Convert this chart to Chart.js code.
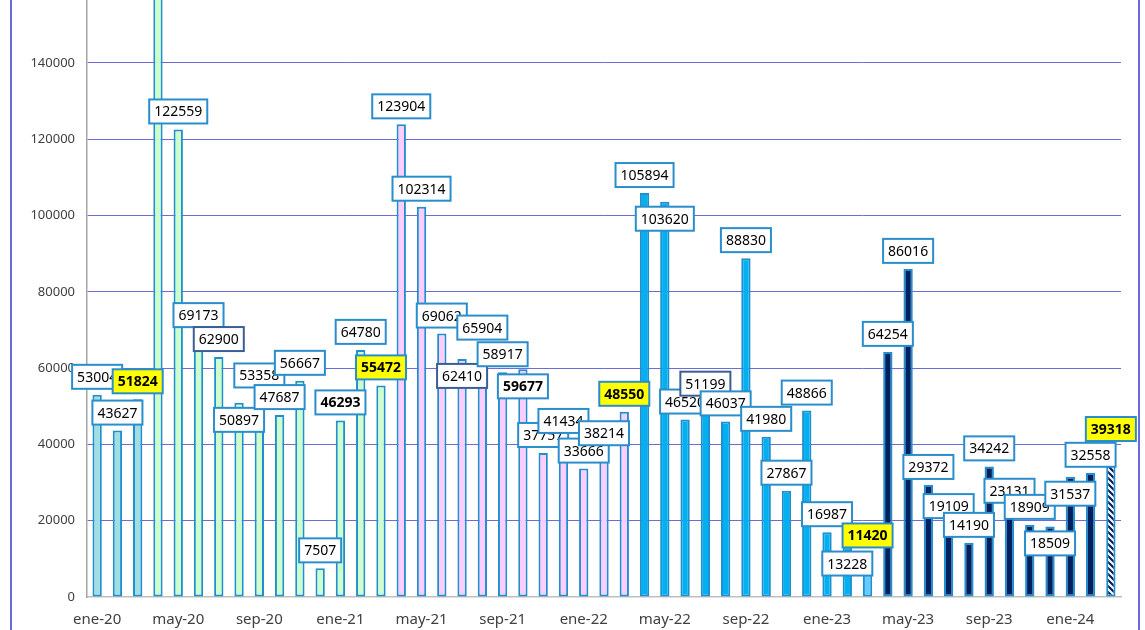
<!DOCTYPE html>
<html>
<head>
<meta charset="utf-8">
<script src="https://cdn.jsdelivr.net/npm/chart.js@4.4.0/dist/chart.umd.min.js"></script>
<style>
    html, body { margin: 0; padding: 0; background: #fff; }
    #contenedor { position: relative; width: 1145px; height: 630px; }
</style>
</head>
<body>
<div id="contenedor"><canvas id="graficoMensual"></canvas></div>
<script>
// Datos mensuales (ene-20 a mar-24)
const meses = [
    'ene-20', 'feb-20', 'mar-20', 'abr-20', 'may-20', 'jun-20', 'jul-20', 'ago-20', 'sep-20', 'oct-20', 'nov-20', 'dic-20',
    'ene-21', 'feb-21', 'mar-21', 'abr-21', 'may-21', 'jun-21', 'jul-21', 'ago-21', 'sep-21', 'oct-21', 'nov-21', 'dic-21',
    'ene-22', 'feb-22', 'mar-22', 'abr-22', 'may-22', 'jun-22', 'jul-22', 'ago-22', 'sep-22', 'oct-22', 'nov-22', 'dic-22',
    'ene-23', 'feb-23', 'mar-23', 'abr-23', 'may-23', 'jun-23', 'jul-23', 'ago-23', 'sep-23', 'oct-23', 'nov-23', 'dic-23',
    'ene-24', 'feb-24', 'mar-24'
];

const valores = [
    53004, 43627, 51824, 175000, 122559, 69173, 62900, 50897, 53358, 47687, 56667, 7507,
    46293, 64780, 55472, 123904, 102314, 69062, 62410, 65904, 58917, 59677, 37757, 41434,
    33666, 38214, 48550, 105894, 103620, 46520, 51199, 46037, 88830, 41980, 27867, 48866,
    16987, 13228, 11420, 64254, 86016, 29372, 19109, 14190, 34242, 23131, 18909, 18509,
    31537, 32558, 39318
];

// Marcas de las etiquetas
const etiquetasAmarillas = [2, 14, 26, 38, 50];
const etiquetasNegrita = [12, 21];
const etiquetasBordeOscuro = [6, 18, 30];
const etiquetasDebajo = [7, 18, 21, 28, 37, 47, 48];

const ticksY = [0, 20000, 40000, 60000, 80000, 100000, 120000, 140000];

// Patrón rayado para el último mes
function crearRayado() {
    const c = document.createElement('canvas');
    c.width = 6;
    c.height = 6;
    const g = c.getContext('2d');
    g.fillStyle = '#ffffff';
    g.fillRect(0, 0, 6, 6);
    g.strokeStyle = '#002060';
    g.lineWidth = 2.2;
    g.beginPath();
    g.moveTo(-3, 3); g.lineTo(3, 9);
    g.moveTo(0, 0); g.lineTo(6, 6);
    g.moveTo(3, -3); g.lineTo(9, 3);
    g.stroke();
    return g.createPattern(c, 'repeat');
}

function colorBarra(i) {
    if (i <= 2) return '#9fdfe3';
    if (i <= 14) return '#ccffcc';
    if (i <= 26) return '#ffccff';
    if (i <= 37) return '#00b0f0';
    if (i === 38) return '#66ccff';
    if (i <= 49) return '#002060';
    return crearRayado();
}

const etiquetasPlugin = {
    id: 'etiquetas',
    afterDatasetsDraw(chart) {
        const ctx = chart.ctx;
        const meta = chart.getDatasetMeta(0);
        ctx.save();
        meta.data.forEach((barra, i) => {
            const texto = String(valores[i]);
            const amarilla = etiquetasAmarillas.includes(i);
            const negrita = amarilla || etiquetasNegrita.includes(i);
            ctx.font = (negrita ? 'bold ' : '') + '14px "Noto Sans"';
            const w = ctx.measureText(texto).width + 10;
            const h = 24;
            const cx = barra.x;
            const cy = barra.y + (etiquetasDebajo.includes(i) ? 17 : -18);
            ctx.fillStyle = amarilla ? '#ffff00' : '#ffffff';
            ctx.fillRect(cx - w / 2, cy - h / 2, w, h);
            ctx.strokeStyle = etiquetasBordeOscuro.includes(i) ? '#3b5f94' : '#2a8dcc';
            ctx.lineWidth = 2;
            ctx.strokeRect(cx - w / 2, cy - h / 2, w, h);
            ctx.fillStyle = '#000000';
            ctx.textAlign = 'center';
            ctx.textBaseline = 'middle';
            ctx.fillText(texto, cx, cy + 1);
        });
        ctx.restore();
    },
    afterDraw(chart) {
        // Marco lateral del gráfico
        const ctx = chart.ctx;
        ctx.save();
        ctx.strokeStyle = '#3a3ad0';
        ctx.lineWidth = 1.5;
        ctx.beginPath();
        ctx.moveTo(11, 0); ctx.lineTo(11, chart.height);
        ctx.moveTo(1139, 0); ctx.lineTo(1139, chart.height);
        ctx.stroke();
        ctx.restore();
    }
};

document.addEventListener('DOMContentLoaded', function() {
    const ctx = document.getElementById('graficoMensual');

    new Chart(ctx, {
        type: 'bar',
        data: {
            labels: meses,
            datasets: [{
                data: valores,
                backgroundColor: valores.map((v, i) => colorBarra(i)),
                borderColor: '#1f8fd0',
                borderWidth: 2,
                borderSkipped: false,
                barPercentage: 0.46,
                categoryPercentage: 1
            }]
        },
        options: {
            responsive: true,
            maintainAspectRatio: false,
            animation: false,
            layout: {
                padding: { left: 11, right: 24, top: 0, bottom: 0 }
            },
            plugins: {
                legend: { display: false },
                tooltip: { enabled: false }
            },
            scales: {
                x: {
                    offset: true,
                    grid: { display: false },
                    border: { color: '#bfbfbf', width: 1.5 },
                    ticks: {
                        autoSkip: false,
                        maxRotation: 0,
                        minRotation: 0,
                        padding: 6,
                        color: '#404040',
                        font: { family: '"Noto Sans"', size: 15 },
                        callback: (v, i) => (i % 4 === 0 ? meses[i] : '')
                    },
                    afterFit: (scale) => {
                        scale.height = 33;
                        scale.paddingLeft = 0;
                        scale.paddingRight = 0;
                    }
                },
                y: {
                    min: 0,
                    max: 156500,
                    afterBuildTicks: (scale) => {
                        scale.ticks = ticksY.map(v => ({ value: v }));
                    },
                    grid: {
                        drawTicks: false,
                        color: (c) => (c.tick && c.tick.value === 0 ? 'rgba(0,0,0,0)' : '#6b6bdc'),
                        lineWidth: 1
                    },
                    border: { color: '#a6a6a6', width: 1.5 },
                    ticks: {
                        padding: 12,
                        color: '#404040',
                        font: { family: '"Noto Sans"', size: 13 },
                        callback: (v) => String(v)
                    },
                    afterFit: (scale) => {
                        scale.width = 76;
                        scale.paddingTop = 0;
                        scale.paddingBottom = 0;
                    }
                }
            }
        },
        plugins: [etiquetasPlugin]
    });
});
</script>
</body>
</html>
